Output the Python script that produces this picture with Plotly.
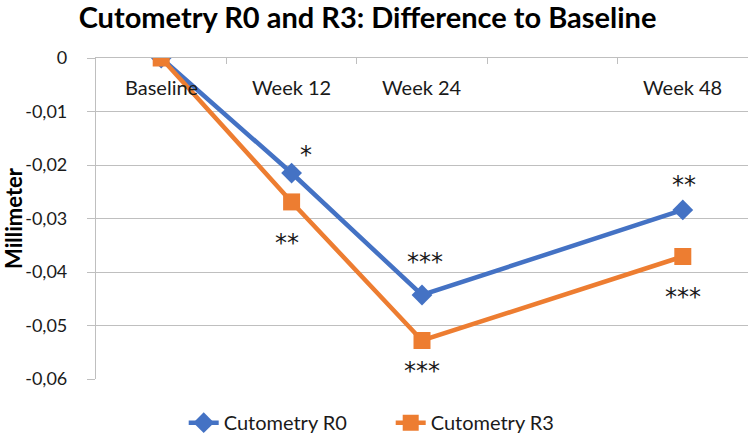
import plotly.graph_objects as go

# ---- data ----
categories = ["Baseline", "Week 12", "Week 24", "", "Week 48"]
cat_pos = [0, 1, 2, 3, 4]
point_pos = [0, 1, 2, 4]
r0_values = [0.0, -0.0215, -0.0443, -0.0284]
r3_values = [0.0, -0.0269, -0.0528, -0.0371]
r0_sig = ["", "*", "***", "**"]
r3_sig = ["", "**", "***", "***"]
y_ticks = [0, -0.01, -0.02, -0.03, -0.04, -0.05, -0.06]
y_tick_text = ["0", "-0,01", "-0,02", "-0,03", "-0,04", "-0,05", "-0,06"]

BLUE = "#4472C4"
ORANGE = "#ED7D31"
GRID = "#BFBFBF"
FONT = "Lato"

fig = go.Figure()
fig.add_trace(go.Scatter(
    x=point_pos, y=r0_values, name="Cutometry R0", mode="lines+markers",
    line=dict(color=BLUE, width=4.5),
    marker=dict(symbol="diamond", size=16, color=BLUE),
))
fig.add_trace(go.Scatter(
    x=point_pos, y=r3_values, name="Cutometry R3", mode="lines+markers",
    line=dict(color=ORANGE, width=4.5),
    marker=dict(symbol="square", size=17, color=ORANGE),
))

annotations = []
# category labels just below the zero axis line
for c, p in zip(categories, cat_pos):
    if c:
        annotations.append(dict(x=p, y=0, xref="x", yref="y", text=c, showarrow=False,
                                yshift=-29, font=dict(family=FONT, size=20, color="#1a1a1a")))
# significance stars
r0_off = [(0, 0), (14, 18), (3, 33), (1, 25)]
r3_off = [(0, 0), (-5, -41), (0, -31), (0, -41)]
for xs, vals, sig, offs in [(point_pos, r0_values, r0_sig, r0_off), (point_pos, r3_values, r3_sig, r3_off)]:
    for xv, yv, s, (dx, dy) in zip(xs, vals, sig, offs):
        if s:
            annotations.append(dict(x=xv, y=yv, xref="x", yref="y", text=s, showarrow=False,
                                    xshift=dx, yshift=dy,
                                    font=dict(family="DejaVu Sans", size=24, color="#1a1a1a")))

fig.update_layout(
    width=750, height=435,
    paper_bgcolor="white", plot_bgcolor="white",
    margin=dict(l=96, r=2, t=58, b=56, autoexpand=False),
    title=dict(text="<b>Cutometry R0 and R3: Difference to Baseline</b>",
               x=0.49, xanchor="center", y=0.958, yanchor="middle",
               font=dict(family=FONT, size=29, color="#000")),
    font=dict(family=FONT, size=18, color="#1a1a1a"),
    showlegend=True,
    legend=dict(orientation="h", x=0.452, xanchor="center", y=-0.136, yanchor="middle",
                font=dict(family=FONT, size=20, color="#1a1a1a"),
                entrywidth=162, entrywidthmode="pixels"),
    annotations=annotations,
)
fig.update_xaxes(
    range=[-0.5, 4.5], side="top", automargin=False,
    tickvals=[p - 0.5 for p in cat_pos] + [cat_pos[-1] + 0.5],
    showticklabels=False, ticks="inside", ticklen=6, tickcolor=GRID, tickwidth=1,
    showline=True, linecolor=GRID, linewidth=1.2, showgrid=False, zeroline=False,
)
fig.update_yaxes(
    range=[-0.06, 0], tickvals=y_ticks, ticktext=y_tick_text, automargin=False,
    showgrid=True, gridcolor=GRID, gridwidth=1.2,
    showline=True, linecolor=GRID, linewidth=1.2,
    ticks="outside", ticklen=8, tickcolor=GRID, zeroline=False, ticklabelstandoff=16,
    tickfont=dict(family=FONT, size=18, color="#1a1a1a"),
    title=dict(text="<b>Millimeter</b>", font=dict(family=FONT, size=22, color="#000"), standoff=5),
)

fig.write_html("out.html", config={"displayModeBar": False},
               post_script="document.body.style.margin='0';")
